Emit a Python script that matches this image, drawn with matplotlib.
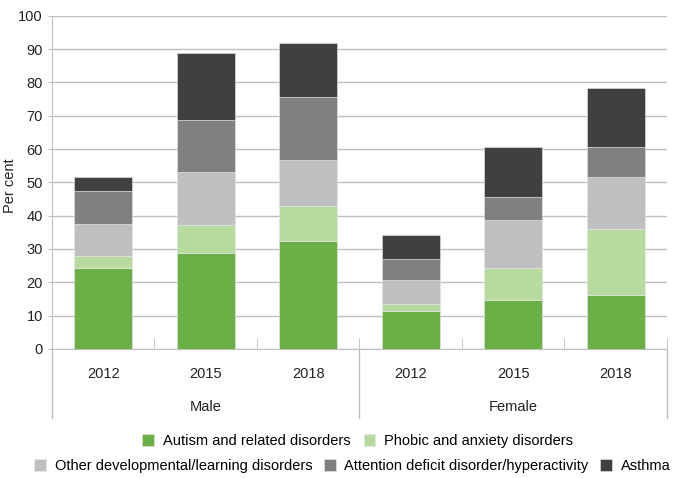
import matplotlib.pyplot as plt
import numpy as np

plt.rcParams['font.family'] = ['Liberation Sans', 'DejaVu Sans']
plt.rcParams['font.size'] = 10.5

# Datos (por cent)
years = ['2012', '2015', '2018', '2012', '2015', '2018']
groups = ['Male', 'Female']
autism = [24.4, 28.7, 32.3, 11.5, 14.7, 16.2]
phobic = [3.6, 8.6, 10.6, 2.0, 9.5, 19.8]
other_dev = [9.5, 15.7, 13.8, 7.1, 14.6, 15.7]
adhd = [9.9, 15.7, 18.9, 6.5, 6.9, 8.9]
asthma = [4.2, 20.2, 16.2, 7.2, 15.0, 17.6]

series = [
    ('Autism and related disorders', autism, '#6ab047'),
    ('Phobic and anxiety disorders', phobic, '#b7db9f'),
    ('Other developmental/learning disorders', other_dev, '#bfbfbf'),
    ('Attention deficit disorder/hyperactivity', adhd, '#808080'),
    ('Asthma', asthma, '#404040'),
]

fig = plt.figure(figsize=(6.75, 4.78), dpi=100)
ax = fig.add_axes([0.077, 0.270, 0.911, 0.697])

x = np.arange(len(years))
bottom = np.zeros(len(years))
handles = []
for name, vals, col in series:
    b = ax.bar(x, vals, 0.565, bottom=bottom, color=col, label=name,
               edgecolor='#e8e8e8', linewidth=0.4, zorder=3)
    handles.append(b)
    bottom += np.array(vals)

ax.set_xlim(-0.5, 5.5)
ax.set_ylim(0, 100)
ax.set_yticks(range(0, 101, 10))
ax.yaxis.grid(True, color='#bfbfbf', linewidth=1)
ax.set_axisbelow(True)
ax.set_ylabel('Per cent', color='#222222')
ax.yaxis.set_label_coords(-0.057, 0.49)

for s in ['top', 'right']:
    ax.spines[s].set_visible(False)
ax.spines['left'].set_color('#bfbfbf')
ax.spines['bottom'].set_color('#bfbfbf')

ax.set_xticks(x)
ax.set_xticklabels(years)
ax.tick_params(axis='x', length=0, pad=13, colors='#222222')
ax.tick_params(axis='y', length=3, color='#bfbfbf', colors='#222222')
ax.set_xticks([0.5, 1.5, 2.5, 3.5, 4.5, 5.5], minor=True)
ax.tick_params(axis='x', which='minor', direction='in', length=8, color='#bfbfbf')

# separadores de grupo y etiquetas
for xp in [0, 0.5, 1]:
    ax.plot([xp, xp], [0, -0.207], transform=ax.transAxes, color='#bfbfbf',
            linewidth=1, clip_on=False)
for i, g in enumerate(groups):
    ax.text(0.25 + 0.5 * i, -0.175, g, transform=ax.transAxes, ha='center',
            va='center', color='#222222')

fig.legend(handles[:2], [s[0] for s in series[:2]], loc='center',
           bbox_to_anchor=(0.53, 1 - 441 / 478), ncol=2, frameon=False,
           handlelength=0.8, handleheight=0.8, columnspacing=0.9, handletextpad=0.6)
fig.legend(handles[2:], [s[0] for s in series[2:]], loc='center',
           bbox_to_anchor=(0.522, 1 - 466 / 478), ncol=3, frameon=False,
           handlelength=0.8, handleheight=0.8, columnspacing=0.8, handletextpad=0.6)

fig.savefig('out.png', dpi=100)
